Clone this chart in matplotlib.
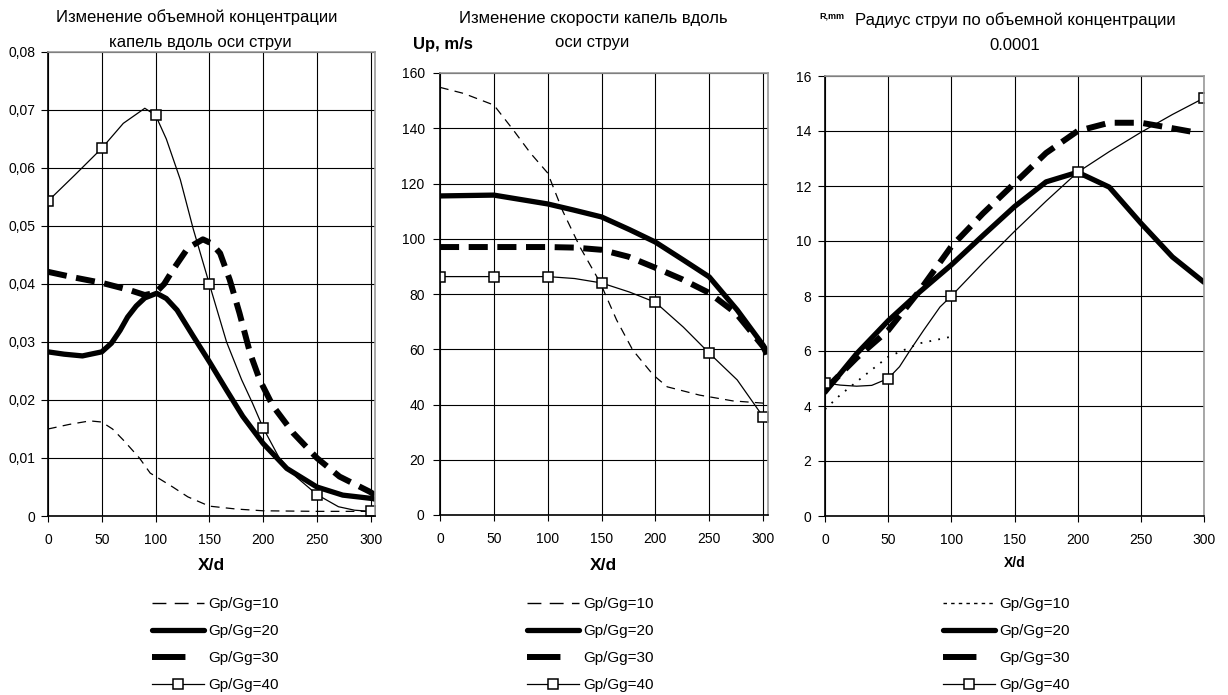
import matplotlib
matplotlib.use('Agg')
import matplotlib.pyplot as plt
from matplotlib.lines import Line2D
from matplotlib.ticker import FuncFormatter

plt.rcParams['font.family'] = ['Liberation Sans', 'DejaVu Sans']

# --- концентрация (панель 1) ---
c10_x = [0, 20, 39, 50, 60, 70, 85, 95, 116, 130, 150, 175, 200, 250, 300, 304]
c10_y = [0.0150, 0.0158, 0.0164, 0.0162, 0.0150, 0.0131, 0.0100, 0.0074, 0.0050,
         0.0033, 0.0017, 0.0012, 0.0009, 0.0008, 0.0008, 0.0008]
c20_x = [0, 15, 32, 50, 59, 67, 74, 82, 90, 101, 110, 120, 135, 150, 166, 181, 200,
         222, 250, 274, 302, 304]
c20_y = [0.0283, 0.0279, 0.0276, 0.0283, 0.0298, 0.0320, 0.0343, 0.0362, 0.0376,
         0.0384, 0.0375, 0.0355, 0.0310, 0.0266, 0.0217, 0.0172, 0.0125, 0.0082,
         0.0050, 0.0036, 0.0030, 0.0029]
c30_x = [0, 25, 50, 75, 90, 100, 108, 116, 130, 144, 152, 160, 169, 178, 188, 197,
         209, 228, 250, 271, 299, 304]
c30_y = [0.0421, 0.0411, 0.0402, 0.0390, 0.0381, 0.0385, 0.0400, 0.0424, 0.0462,
         0.0477, 0.0470, 0.0453, 0.0407, 0.0350, 0.0280, 0.0234, 0.0190, 0.0143,
         0.0100, 0.0068, 0.0042, 0.0036]
c40_x = [0, 25, 50, 70, 90, 100, 110, 123, 135, 150, 166, 180, 190, 200, 215, 231,
         250, 270, 285, 300, 304]
c40_y = [0.0543, 0.0588, 0.0634, 0.0677, 0.0703, 0.0691, 0.0650, 0.0580, 0.0495,
         0.0400, 0.0300, 0.0235, 0.0195, 0.0152, 0.0100, 0.0067, 0.0037, 0.0016,
         0.0010, 0.0008, 0.0008]
c40_marks = [0, 50, 100, 150, 200, 250, 300]

# --- скорость (панель 2) ---
u10_x = [0, 22, 50, 68, 84, 100, 114, 130, 146, 150, 164, 179, 198, 211, 241, 272, 300, 304]
u10_y = [154.8, 152.6, 148.4, 139.4, 131.0, 123.8, 110.0, 97.0, 86.0, 83.0, 70.6,
         59.7, 50.7, 46.4, 43.4, 41.3, 40.5, 40.2]
u20_x = [0, 50, 100, 124, 150, 176, 200, 226, 250, 276, 300, 304]
u20_y = [115.5, 115.8, 112.6, 110.4, 107.9, 103.3, 98.8, 92.3, 86.2, 74.2, 61.5, 59.0]
u30_x = [0, 50, 100, 125, 150, 175, 200, 225, 250, 275, 300, 304]
u30_y = [97.0, 97.0, 97.0, 96.8, 96.0, 93.5, 89.5, 85.3, 80.4, 73.0, 61.0, 58.0]
u40_x = [0, 50, 100, 125, 150, 176, 200, 226, 250, 276, 300, 304]
u40_y = [86.3, 86.3, 86.3, 85.6, 84.0, 80.7, 77.0, 68.0, 58.6, 48.9, 35.6, 33.5]
u40_marks = [0, 50, 100, 150, 200, 250, 300]

# --- радиус (панель 3) ---
r10_x = [0, 12, 25, 50, 75, 100]
r10_y = [3.88, 4.4, 4.88, 5.79, 6.28, 6.52]
r20_x = [0, 25, 50, 75, 100, 125, 150, 175, 200, 225, 250, 275, 300]
r20_y = [4.5, 5.9, 7.1, 8.15, 9.13, 10.2, 11.25, 12.15, 12.5, 11.96, 10.65, 9.42, 8.5]
r30_x = [0, 25, 50, 75, 100, 125, 150, 175, 200, 225, 250, 275, 293]
r30_y = [4.6, 5.75, 6.75, 8.2, 9.8, 11.0, 12.1, 13.2, 14.0, 14.3, 14.3, 14.1, 13.95]
r40_x = [0, 12, 25, 37, 50, 59, 67, 78, 91, 100, 125, 150, 175, 200, 225, 250, 275, 300]
r40_y = [4.84, 4.76, 4.72, 4.75, 5.0, 5.43, 6.0, 6.75, 7.6, 8.0, 9.2, 10.35, 11.45,
         12.5, 13.25, 13.95, 14.6, 15.2]
r40_marks = [0, 50, 100, 200, 300]

labels = ['Gp/Gg=10', 'Gp/Gg=20', 'Gp/Gg=30', 'Gp/Gg=40']

W, H = 1228, 695


def px(x, y):
    return x / W, 1 - y / H


def setup_axes(ax, xmax, ymax, ystep, fmt, ylpad):
    ax.set_xlim(0, xmax)
    ax.set_ylim(0, ymax)
    ax.set_xticks(range(0, 301, 50))
    ticks = [i * ystep for i in range(int(round(ymax / ystep)) + 1)]
    ax.set_yticks(ticks)
    ax.yaxis.set_major_formatter(FuncFormatter(fmt))
    ax.grid(True, color='black', linewidth=0.8)
    ax.set_axisbelow(True)
    for s in ['top', 'right']:
        ax.spines[s].set_color('#999999')
        ax.spines[s].set_linewidth(1.2)
    for s in ['left', 'bottom']:
        ax.spines[s].set_linewidth(1.2)
    ax.tick_params(axis='x', direction='out', length=4, pad=8, labelsize=10)
    ax.tick_params(axis='y', direction='out', length=5, pad=ylpad, labelsize=10)


def draw(ax, d10, d20, d30, d40, marks, dotted10=False):
    if dotted10:
        ax.plot(*d10, color='black', lw=1.3, dashes=(1, 4))
    else:
        ax.plot(*d10, color='black', lw=0.9, dashes=(7, 5))
    ax.plot(*d20, color='black', lw=3.8, solid_joinstyle='round', solid_capstyle='round')
    ax.plot(*d30, color='black', lw=4.3, dashes=(3.2, 1.6))
    xs = d40[0]
    idx = [i for i, x in enumerate(xs) if x in marks]
    ax.plot(*d40, color='black', lw=0.9, marker='s', markersize=7,
            markerfacecolor='white', markeredgecolor='black',
            markeredgewidth=1.1, markevery=idx)


def legend_handles(dotted10=False):
    # образцы линий в легенде, как в Excel
    if dotted10:
        h10 = Line2D([], [], color='black', lw=1.0, dashes=(2.5, 3))
    else:
        h10 = Line2D([], [], color='black', lw=1.0, dashes=(10, 6))
    h20 = Line2D([], [], color='black', lw=3.8, solid_capstyle='round')
    h30 = Line2D([], [], color='black', lw=4.3, dashes=(5.6, 3.4, 0.3, 5))
    h40 = Line2D([], [], color='black', lw=0.9, marker='s', markersize=7,
                 markerfacecolor='white', markeredgecolor='black', markeredgewidth=1.1)
    return [h10, h20, h30, h40]


fig = plt.figure(figsize=(12.28, 6.95), dpi=100)

ax1 = fig.add_axes([48 / W, 1 - 516 / H, 327 / W, 464 / H])
ax2 = fig.add_axes([440 / W, 1 - 515 / H, 328 / W, 442 / H])
ax3 = fig.add_axes([825 / W, 1 - 516 / H, 379 / W, 440 / H])

setup_axes(ax1, 304, 0.08, 0.01,
           lambda v, p: '0' if abs(v) < 1e-9 else ('%.2f' % v).replace('.', ','), 4)
setup_axes(ax2, 304.6, 160, 20, lambda v, p: '%d' % v, 6)
setup_axes(ax3, 300, 16, 2, lambda v, p: '%d' % v, 5)

draw(ax1, (c10_x, c10_y), (c20_x, c20_y), (c30_x, c30_y), (c40_x, c40_y), c40_marks)
draw(ax2, (u10_x, u10_y), (u20_x, u20_y), (u30_x, u30_y), (u40_x, u40_y), u40_marks)
draw(ax3, (r10_x, r10_y), (r20_x, r20_y), (r30_x, r30_y), (r40_x, r40_y), r40_marks,
     dotted10=True)

# заголовки (по строкам)
titles = [
    (197, 17, 'Изменение объемной концентрации'),
    (200, 42, 'капель вдоль оси струи'),
    (593, 18, 'Изменение скорости капель вдоль'),
    (592, 42, 'оси струи'),
    (1015, 20, 'Радиус струи по объемной концентрации'),
    (1015, 45, '0.0001'),
]
for tx, ty, s in titles:
    fig.text(*px(tx, ty), s, ha='center', va='center', fontsize=12)

fig.text(*px(819, 16), 'R,mm', ha='left', va='center', fontsize=6.5, fontweight='bold')
fig.text(*px(413, 45), 'Up, m/s', ha='left', va='center', fontsize=12, fontweight='bold')

fig.text(*px(211, 565), 'X/d', ha='center', va='center', fontsize=12.5, fontweight='bold')
fig.text(*px(603, 565), 'X/d', ha='center', va='center', fontsize=12.5, fontweight='bold')
fig.text(*px(1015, 563), 'X/d', ha='center', va='center', fontsize=10, fontweight='bold')

# легенды
for dot, (lx, ly) in zip([False, False, True], [(152, 597), (527, 597), (943, 597)]):
    fig.legend(legend_handles(dot), labels, loc='upper left', bbox_to_anchor=px(lx, ly),
               frameon=False, fontsize=11, borderpad=0, borderaxespad=0,
               handlelength=3.4, handletextpad=0.25, labelspacing=0.86,
               numpoints=1)

fig.savefig('out.png', dpi=100)
